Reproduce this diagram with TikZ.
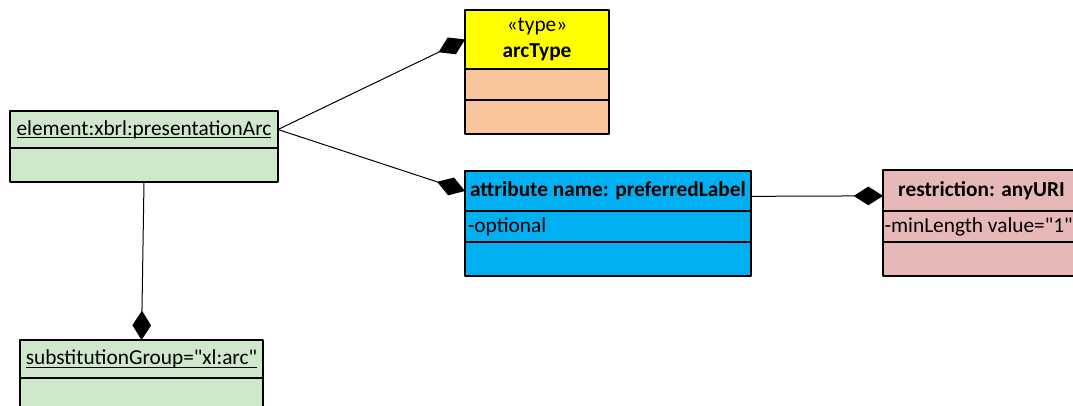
\documentclass[tikz,border=0pt]{standalone}
\usepackage{fontspec}
\setmainfont{Carlito}
\usetikzlibrary{arrows.meta}
\newsavebox{\ulsave}
\newcommand{\ulbox}[1]{\sbox{\ulsave}{#1}\rlap{\rule[-2.4pt]{\wd\ulsave}{0.7pt}}\usebox{\ulsave}}
\definecolor{elemgreen}{HTML}{CFE8CC}
\definecolor{typeyellow}{HTML}{FFFF00}
\definecolor{typepeach}{HTML}{F8C59C}
\definecolor{attrblue}{HTML}{00B0F0}
\definecolor{restrpink}{HTML}{E6B9B8}

\begin{document}
\begin{tikzpicture}[x=0.75pt, y=-0.75pt, line join=round,
  part/.style={draw, line width=1.4pt, inner sep=1pt, outer sep=0pt, anchor=north west,
    font=\fontsize{16}{18}\selectfont},
  slot/.style={inner sep=2pt, anchor=west, font=\fontsize{16}{18}\selectfont},
  link/.style={line width=0.75pt, -{Diamond[length=22pt,width=14pt]}}]
\useasboundingbox (0,0) rectangle (1073,405);
\clip (0,0) rectangle (1073,405);
% element
\node[part, fill=elemgreen, minimum width=201pt, minimum height=27.75pt] (arc) at (10,111)
  {\ulbox{element:xbrl:presentationArc}};
\node[part, fill=elemgreen, minimum width=201pt, minimum height=25.5pt] (arcB) at (arc.south west) {};
% type
\node[part, fill=typeyellow, minimum width=108pt, minimum height=44.25pt, align=center] (typ) at (465,10)
  {«type»\\[1pt]\textbf{arcType}};
\node[part, fill=typepeach, minimum width=108pt, minimum height=23.25pt] (typB) at (typ.south west) {};
\node[part, fill=typepeach, minimum width=108pt, minimum height=25.5pt] (typC) at (typB.south west) {};
% attribute
\node[part, fill=attrblue, minimum width=214.5pt, minimum height=30pt] (pref) at (465,171)
  {\textbf{attribute name: preferredLabel}};
\node[part, fill=attrblue, minimum width=214.5pt, minimum height=23.25pt] (prefB) at (pref.south west) {};
\node[part, fill=attrblue, minimum width=214.5pt, minimum height=25.5pt] (prefC) at (prefB.south west) {};
\node[slot] (opt) at (prefB.west) {-optional};
% restriction
\node[part, fill=restrpink, minimum width=147.75pt, minimum height=30.75pt] (uri) at (883,170)
  {\textbf{restriction: anyURI}};
\node[part, fill=restrpink, minimum width=147.75pt, minimum height=23.25pt] (uriB) at (uri.south west) {};
\node[part, fill=restrpink, minimum width=147.75pt, minimum height=25.5pt] (uriC) at (uriB.south west) {};
\node[slot, inner xsep=1pt] (minlen) at (uriB.west) {-minLength value=\textquotedbl 1\textquotedbl};
% substitution group
\node[part, fill=elemgreen, minimum width=182.25pt, minimum height=28.5pt] (subst) at (20,340)
  {\ulbox{substitutionGroup=\textquotedbl xl:arc\textquotedbl}};
\node[part, fill=elemgreen, minimum width=182.25pt, minimum height=30pt] (substB) at (subst.south west) {};
% links
\draw[link] (arc.east) -- (typ.west);
\draw[link] (arc.east) -- (pref.west);
\draw[link] ([yshift=-4pt]pref.east) -- ([yshift=-4pt]uri.west);
\draw[link] (arcB.south) -- (subst.north);
\end{tikzpicture}
\end{document}
